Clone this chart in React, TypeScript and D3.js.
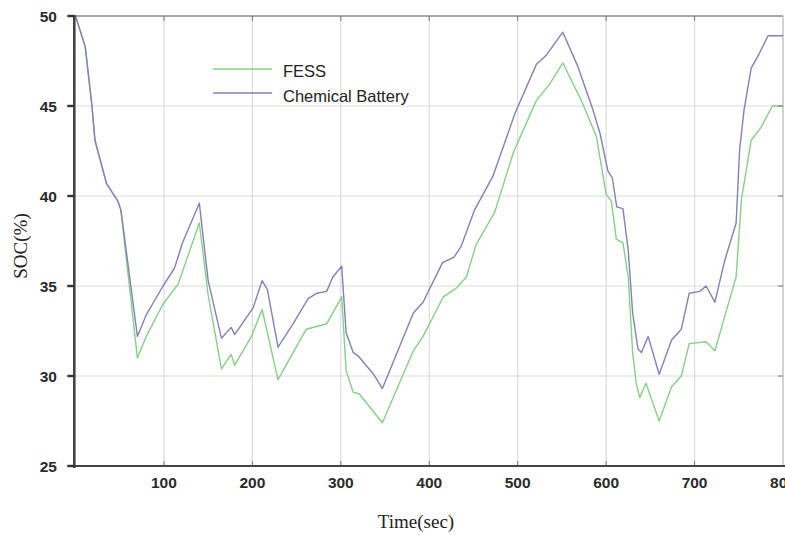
import * as d3 from "d3";

// time (sec) and SOC (%)
const fessTime = [0, 11, 18.6, 22, 35, 48, 51.4, 70, 80, 99, 116, 140, 150, 165, 176, 180, 199, 211, 229, 246, 261, 284, 301, 306, 314, 321, 347, 382, 393, 416, 431, 442, 453, 474, 495, 521, 536, 551, 572, 589, 600, 606, 611.5, 619, 625, 630, 634, 638, 645, 660, 674, 685, 694, 713, 723, 734, 747, 753, 764, 775, 788, 800];
const fessSoc = [50, 48.3, 45, 43.1, 40.7, 39.7, 39.2, 31.0, 32.2, 34.0, 35.1, 38.5, 34.5, 30.4, 31.2, 30.6, 32.2, 33.7, 29.8, 31.3, 32.6, 32.9, 34.4, 30.3, 29.1, 29.0, 27.4, 31.4, 32.2, 34.4, 34.9, 35.5, 37.3, 39.1, 42.4, 45.3, 46.2, 47.4, 45.3, 43.3, 40.1, 39.7, 37.6, 37.4, 35.5, 31.3, 29.6, 28.8, 29.6, 27.5, 29.4, 30.0, 31.8, 31.9, 31.4, 33.3, 35.5, 39.8, 43.1, 43.8, 45.0, 45.0];

const batteryTime = [0, 11, 18.6, 22, 35, 48, 51.4, 70, 80, 99, 112, 121, 140, 150, 165, 176, 180, 201, 211, 217, 229, 246, 263, 273, 284, 291, 301, 306, 314, 320, 337, 347, 382, 393, 415, 428, 436, 451, 472, 497, 521, 532, 551, 568, 585, 593, 602, 607, 612, 619, 625, 630, 636, 640, 647.5, 660, 674, 685, 694, 706, 713, 723, 734, 747, 751, 756, 764, 773, 783, 800];
const batterySoc = [50, 48.3, 45, 43.1, 40.7, 39.7, 39.2, 32.2, 33.4, 35.0, 36.0, 37.4, 39.6, 35.3, 32.1, 32.7, 32.3, 33.8, 35.3, 34.8, 31.6, 32.9, 34.3, 34.6, 34.7, 35.5, 36.1, 32.4, 31.3, 31.1, 30.1, 29.3, 33.5, 34.1, 36.3, 36.6, 37.2, 39.2, 41.1, 44.6, 47.3, 47.8, 49.1, 47.2, 44.8, 43.5, 41.4, 41.0, 39.4, 39.3, 37.0, 33.5, 31.5, 31.3, 32.2, 30.1, 32.0, 32.6, 34.6, 34.7, 35.0, 34.1, 36.4, 38.5, 42.6, 44.8, 47.1, 47.9, 48.9, 48.9];

const xTicks = [100, 200, 300, 400, 500, 600, 700, 800];
const yTicks = [25, 30, 35, 40, 45, 50];
const seriesNames = ["FESS", "Chemical Battery"];

const W = 785;
const H = 536;
const FESS_COLOR = "#86d086";
const BAT_COLOR = "#8181b8";

export default function App() {
  const x = d3.scaleLinear().domain([0, 800]).range([75.5, 783]);
  const y = d3.scaleLinear().domain([25, 50]).range([466, 16]);

  const toPts = (t: number[], v: number[]) => t.map((d, i) => [d, v[i]] as [number, number]);
  const line = d3
    .line<[number, number]>()
    .x((d) => x(d[0]))
    .y((d) => y(d[1]));

  const fessPath = line(toPts(fessTime, fessSoc)) || "";
  const batPath = line(toPts(batteryTime, batterySoc)) || "";

  const x0 = x(0) - 1.2;
  const x1 = x(800);
  const yTop = y(50);
  const yBot = y(25);
  const tickFont = "'Liberation Sans', Arial, sans-serif";

  return (
    <svg
      width={W}
      height={H}
      style={{ position: "absolute", left: 0, top: 0, background: "#fff" }}
    >
      {/* grid */}
      <g stroke="#dcdcdc" strokeWidth={1.2}>
        {xTicks.slice(0, -1).map((t) => (
          <line key={"gx" + t} x1={x(t)} x2={x(t)} y1={yTop} y2={yBot} />
        ))}
        {yTicks.slice(1, -1).map((v) => (
          <line key={"gy" + v} x1={x0} x2={x1} y1={y(v)} y2={y(v)} />
        ))}
      </g>

      {/* top and right border */}
      <line x1={x0} x2={x1} y1={yTop} y2={yTop} stroke="#8a8a8a" strokeWidth={1.6} />
      <line x1={x1} x2={x1} y1={yTop} y2={yBot} stroke="#b5b5b5" strokeWidth={1.2} />

      {/* series */}
      <path d={fessPath} fill="none" stroke={FESS_COLOR} strokeWidth={1.4} strokeLinejoin="round" />
      <path d={batPath} fill="none" stroke={BAT_COLOR} strokeWidth={1.4} strokeLinejoin="round" />

      {/* inner tick marks */}
      <g stroke="#777" strokeWidth={1}>
        {xTicks.slice(0, -1).map((t) => (
          <g key={"tx" + t}>
            <line x1={x(t)} x2={x(t)} y1={yBot} y2={yBot - 5} />
            <line x1={x(t)} x2={x(t)} y1={yTop} y2={yTop + 5} />
          </g>
        ))}
        {yTicks.slice(1, -1).map((v) => (
          <line key={"ty" + v} x1={x1} x2={x1 - 5} y1={y(v)} y2={y(v)} />
        ))}
      </g>

      {/* axes */}
      <line x1={x0} x2={x0} y1={yTop - 1} y2={yBot + 2} stroke="#444" strokeWidth={2.6} />
      <line x1={x0 - 1} x2={x1 + 2} y1={yBot} y2={yBot} stroke="#444" strokeWidth={2.2} />
      <g stroke="#333" strokeWidth={2.4}>
        {yTicks.map((v) => (
          <line key={"yt" + v} x1={x0 - 7} x2={x0} y1={y(v)} y2={y(v)} />
        ))}
      </g>

      {/* y tick labels */}
      <g fontFamily={tickFont} fontSize={15.5} fill="#2a2a2a" textAnchor="end" fontWeight={600}>
        {yTicks.map((v) => (
          <text key={"yl" + v} x={57} y={y(v)} dy="0.36em">
            {v}
          </text>
        ))}
      </g>

      {/* x tick labels */}
      <g fontFamily={tickFont} fontSize={15.5} fill="#2a2a2a" textAnchor="middle" fontWeight={600}>
        {xTicks.map((t) => (
          <text key={"xl" + t} x={x(t)} y={488}>
            {t}
          </text>
        ))}
      </g>

      {/* axis titles */}
      <text
        x={416}
        y={528}
        textAnchor="middle"
        fontFamily="'Liberation Serif', 'Times New Roman', serif"
        fontSize={19}
        fill="#222"
      >
        Time(sec)
      </text>
      <text
        transform={`translate(27,246) rotate(-90)`}
        textAnchor="middle"
        fontFamily="'Liberation Serif', 'Times New Roman', serif"
        fontSize={19}
        fill="#222"
      >
        SOC(%)
      </text>

      {/* legend */}
      <g fontFamily={tickFont} fontSize={16.5} fill="#222">
        <line x1={213} x2={272} y1={69} y2={69} stroke={FESS_COLOR} strokeWidth={1.6} />
        <line x1={213} x2={272} y1={93} y2={93} stroke={BAT_COLOR} strokeWidth={1.6} />
        <text x={283} y={77}>
          {seriesNames[0]}
        </text>
        <text x={283} y={102}>
          {seriesNames[1]}
        </text>
      </g>
    </svg>
  );
}
